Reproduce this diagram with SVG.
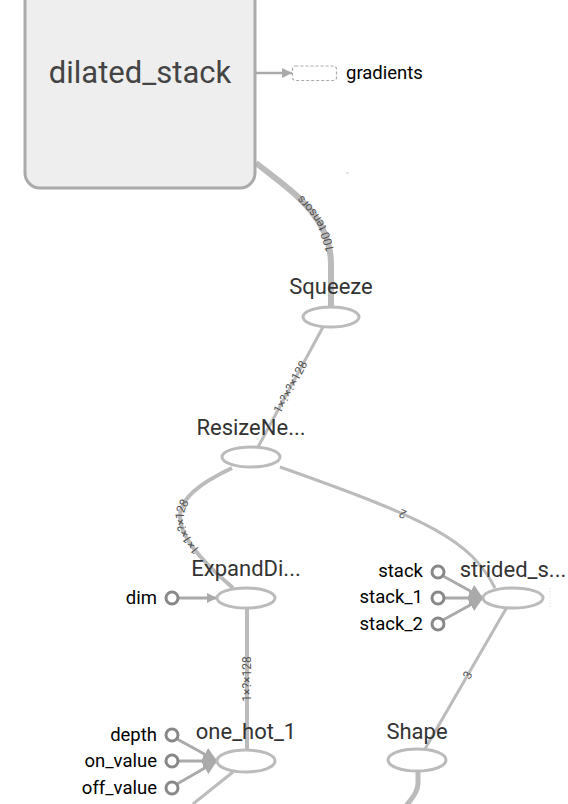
<svg xmlns="http://www.w3.org/2000/svg" width="568" height="804" viewBox="0 0 568 804">
<defs>
<style>
.edge{fill:none;stroke:#bbb;stroke-linecap:butt}
.in{fill:none;stroke:#aaa;stroke-width:3}
.op{fill:#fff;stroke:#bbb;stroke-width:3}
.const{fill:#fff;stroke:#888;stroke-width:3}
.lbl{font-family:Roboto,"Liberation Sans",sans-serif;font-size:22px;fill:#333;text-anchor:middle}
.ilbl{font-family:Roboto,"Liberation Sans",sans-serif;font-size:18.5px;fill:#000;text-anchor:end}
.elbl{font-family:Roboto,"Liberation Sans",sans-serif;font-size:12px;fill:#555;text-anchor:middle}
</style>
<marker id="arr" markerWidth="10" markerHeight="10" refX="10" refY="5" orient="auto" markerUnits="userSpaceOnUse" viewBox="0 0 10 10">
<path d="M0,0 L10,5 L0,10 Z" fill="#aaa"/>
</marker>
<marker id="arrbig" markerWidth="14" markerHeight="14" refX="14" refY="7" orient="auto" markerUnits="userSpaceOnUse" viewBox="0 0 14 14">
<path d="M0,0 L14,7 L0,14 Z" fill="#aaa"/>
</marker>
<path id="p100" d="M331,307 L331,265 C331,215 290,190 256,163"/>
<path id="pSR" d="M258,447 L323,327"/>
<path id="pRE" d="M233,588 C160,525 165,500 232,468"/>
<path id="pRS" d="M495,588 C470,540 430,520 280,467"/>
<path id="pEO" d="M247,750 L247,608"/>
<path id="pSS" d="M425,749 L507,607"/>
</defs>

<g id="connectors">
<use href="#p100" class="edge" style="stroke-width:6"/>
<use href="#pSR" class="edge" style="stroke-width:3"/>
<use href="#pRE" class="edge" style="stroke-width:4"/>
<use href="#pRS" class="edge" style="stroke-width:3"/>
<use href="#pEO" class="edge" style="stroke-width:4"/>
<use href="#pSS" class="edge" style="stroke-width:3"/>
<path class="edge" style="stroke-width:3" d="M233,772 L193,804"/>
<path class="edge" style="stroke-width:5" d="M418,771 L418,783 C418,792 412,798 406,806"/>
<line x1="256" y1="73" x2="292" y2="73" stroke="#aaa" stroke-width="2.5" marker-end="url(#arr)"/>
<line class="in" x1="178" y1="598" x2="217" y2="598" marker-end="url(#arr)"/>
<line class="in" x1="443" y1="576" x2="483" y2="598" marker-end="url(#arrbig)"/>
<line class="in" x1="445" y1="598" x2="483" y2="598" marker-end="url(#arrbig)"/>
<line class="in" x1="443" y1="620" x2="483" y2="598" marker-end="url(#arrbig)"/>
<line class="in" x1="177" y1="739" x2="217" y2="761" marker-end="url(#arrbig)"/>
<line class="in" x1="179" y1="761" x2="217" y2="761" marker-end="url(#arrbig)"/>
<line class="in" x1="177" y1="784" x2="217" y2="761" marker-end="url(#arrbig)"/>
<text class="elbl" dy="4"><textPath href="#p100" startOffset="50%">100 tensors</textPath></text>
<text class="elbl" dy="4"><textPath href="#pSR" startOffset="50%">1×?×?×128</textPath></text>
<text class="elbl" dy="4"><textPath href="#pRE" startOffset="48%">1×1×?×128</textPath></text>
<text class="elbl" dy="4"><textPath href="#pRS" startOffset="48%">2</textPath></text>
<text class="elbl" dy="4"><textPath href="#pEO" startOffset="50%">1×?×128</textPath></text>
<text class="elbl" dy="4"><textPath href="#pSS" startOffset="52%">3</textPath></text>
<line x1="346" y1="173" x2="349" y2="173" stroke="#ccc" stroke-width="1"/>
<line x1="550" y1="588" x2="550" y2="607" stroke="#ddd" stroke-width="1" stroke-dasharray="1,2"/>
</g>

<g id="dilated_stack">
<rect x="25" y="-30" width="230" height="218" rx="15" fill="#eee" stroke="#aaa" stroke-width="3"/>
<text class="lbl" x="140" y="83" style="font-size:31px;fill:#444">dilated_stack</text>
</g>

<g id="gradients">
<rect x="292.5" y="66" width="44" height="14.5" rx="3" fill="#fff" stroke="#aaa" stroke-width="1.2" stroke-dasharray="3,2"/>
<text class="ilbl" x="346" y="79" style="text-anchor:start">gradients</text>
</g>

<g id="Squeeze">
<ellipse class="op" cx="331" cy="317" rx="28" ry="10"/>
<text class="lbl" x="331" y="294">Squeeze</text>
</g>

<g id="ResizeNe">
<ellipse class="op" cx="251" cy="457" rx="29" ry="10"/>
<text class="lbl" x="251" y="435">ResizeNe...</text>
</g>

<g id="ExpandDi">
<ellipse class="op" cx="246" cy="598" rx="29" ry="10"/>
<text class="lbl" x="246" y="576">ExpandDi...</text>
</g>

<g id="dim">
<circle class="const" cx="172" cy="598" r="6"/>
<text class="ilbl" x="157" y="604">dim</text>
</g>

<g id="strided_s">
<ellipse class="op" cx="513" cy="598" rx="30" ry="10"/>
<text class="lbl" x="513" y="577">strided_s...</text>
</g>

<g id="stack">
<circle class="const" cx="438" cy="572" r="6"/>
<text class="ilbl" x="423" y="577">stack</text>
</g>
<g id="stack_1">
<circle class="const" cx="438" cy="598" r="6"/>
<text class="ilbl" x="423" y="603">stack_1</text>
</g>
<g id="stack_2">
<circle class="const" cx="438" cy="624" r="6"/>
<text class="ilbl" x="423" y="630">stack_2</text>
</g>

<g id="one_hot_1">
<ellipse class="op" cx="246" cy="761" rx="29" ry="11"/>
<text class="lbl" x="246" y="739">one_hot_1</text>
</g>

<g id="depth">
<circle class="const" cx="172" cy="735" r="6"/>
<text class="ilbl" x="157" y="741">depth</text>
</g>
<g id="on_value">
<circle class="const" cx="172" cy="761" r="6"/>
<text class="ilbl" x="157" y="767">on_value</text>
</g>
<g id="off_value">
<circle class="const" cx="172" cy="788" r="6"/>
<text class="ilbl" x="157" y="794">off_value</text>
</g>

<g id="Shape">
<ellipse class="op" cx="417" cy="760" rx="29" ry="11"/>
<text class="lbl" x="417" y="739">Shape</text>
</g>
</svg>
